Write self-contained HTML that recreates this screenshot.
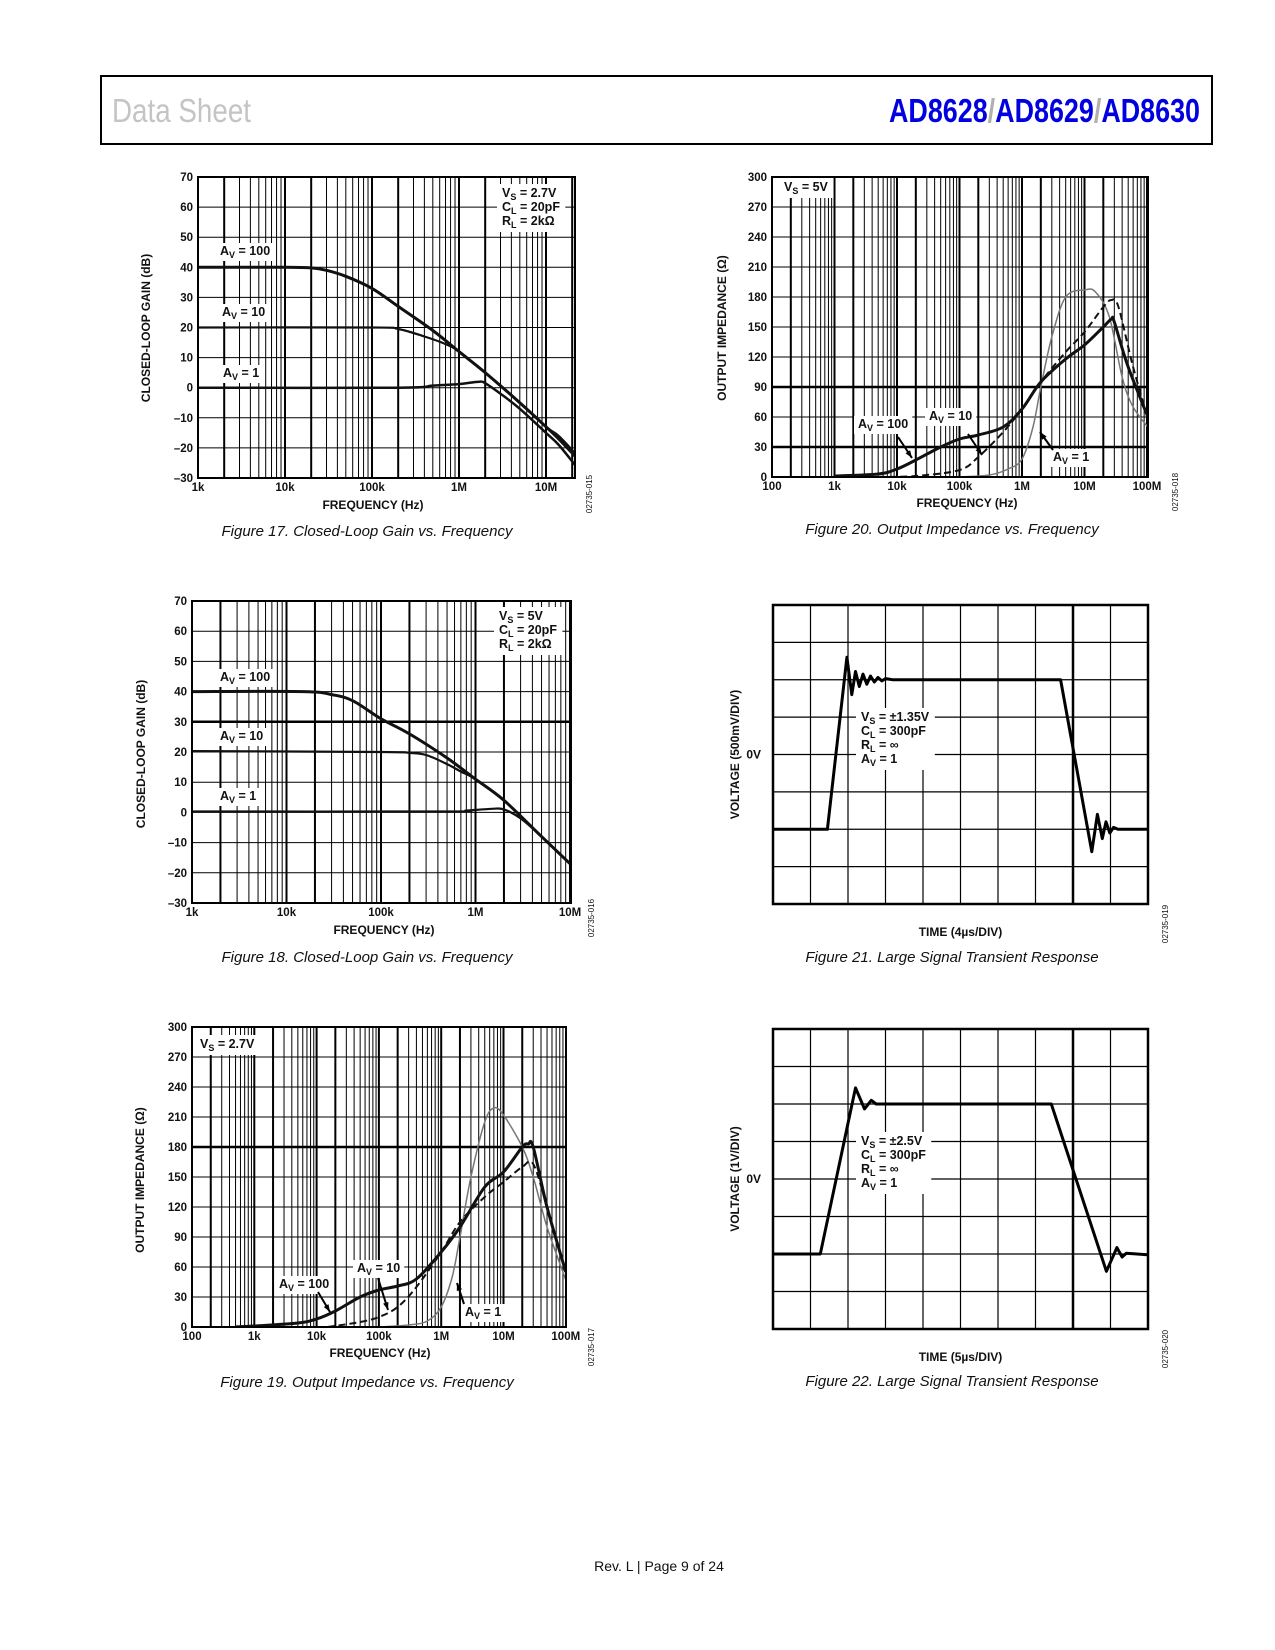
<!DOCTYPE html>
<html><head><meta charset="utf-8"><style>
html,body{margin:0;padding:0;background:#fff}
svg{display:block}
text{font-family:"Liberation Sans",Arial,sans-serif}
.t{font-size:11.5px;font-weight:bold;fill:#111}
.at{font-size:12px;font-weight:bold;fill:#111}
.cap{font-size:15px;font-style:italic;fill:#111}
.lg{font-size:12.5px;font-weight:bold;fill:#111}
.code{font-size:8px;fill:#111}
</style></head><body>
<svg id="page" width="1275" height="1650" viewBox="0 0 1275 1650" xmlns="http://www.w3.org/2000/svg">
<rect x="101" y="76" width="1111" height="68" fill="#fff" stroke="#000" stroke-width="2"/>
<text x="112" y="122" font-size="33" fill="#c4c4c4" textLength="139" lengthAdjust="spacingAndGlyphs">Data Sheet</text>
<text x="889" y="122" font-size="33" font-weight="bold" fill="#0000e0" textLength="311" lengthAdjust="spacingAndGlyphs">AD8628<tspan fill="#b0b0b0">/</tspan>AD8629<tspan fill="#b0b0b0">/</tspan>AD8630</text>
<g id="charts"></g>
<text x="659" y="1571" font-size="14" text-anchor="middle" fill="#111">Rev. L | Page 9 of 24</text>
</svg>
<script>
// ---------- Fig 17 data (freq Hz, gain dB) ----------
const f17_av100_f=[1e3,1e4,2e4,3e4,5e4,1e5,2e5,5e5,1e6,2e6,5e6,1e7,1.4e7,2.2e7];
const f17_av100_v=[40,40,39.8,39,37,33,27,19,12,5,-5,-13,-17,-23];
const f17_av10_f=[1e3,1e5,2e5,4e5,7e5,1e6,2e6,5e6,1e7,1.4e7,2.2e7];
const f17_av10_v=[20,20,19.5,17,14.5,12,5,-5,-13,-16,-22];
const f17_av1_f=[1e3,2e5,5e5,1e6,1.7e6,2e6,3e6,5e6,1e7,1.4e7,2.2e7];
const f17_av1_v=[0,0,0.7,1.2,2,1.5,-2,-7,-15,-19,-26];
const gainTicks=[70,60,50,40,30,20,10,0,-10,-20,-30];
const gainTickLabels=["70","60","50","40","30","20","10","0","\u201310","\u201320","\u201330"];
const f17_xTicks=[1e3,1e4,1e5,1e6,1e7];
const f17_xLabels=["1k","10k","100k","1M","10M"];
// ---------- Fig 18 data ----------
const f18_av100_f=[1e3,1.5e4,3e4,5e4,1e5,2e5,5e5,1e6,2e6,5e6,1e7];
const f18_av100_v=[40,40,39,37,31,26,18,11,4,-8,-17];
const f18_av10_f=[1e3,1e5,2e5,3e5,5e5,7e5,1e6,2e6,5e6,1e7];
const f18_av10_v=[20.3,20,19.7,19,16,13.5,11,4,-8,-17];
const f18_av1_f=[1e3,5e5,8e5,1.5e6,2e6,3e6,5e6,1e7];
const f18_av1_v=[0.3,0.3,0.6,1.2,1,-2,-8,-17];
// ---------- Fig 19 data (freq Hz, ohms) ----------
const f19_av100_f=[500,1e3,5e3,1e4,2e4,5e4,1e5,2e5,4e5,1e6,2e6,5e6,1e7,2e7,2.5e7,3e7,5e7,1e8];
const f19_av100_v=[0,1,4,8,16,30,37,41,48,75,100,140,155,180,183,180,120,55];
const f19_av10_f=[1.5e4,5e4,1e5,2e5,4e5,1e6,2e6,5e6,1e7,2e7,3e7,5e7,1e8];
const f19_av10_v=[0,5,10,20,40,75,105,130,145,160,163,120,55];
const f19_av1_f=[1e5,3e5,6e5,1e6,1.5e6,2e6,3e6,5e6,7e6,1e7,2e7,3e7,5e7,1e8];
const f19_av1_v=[0,2,6,20,50,90,150,205,219,212,180,150,100,47];
const impTicks=[300,270,240,210,180,150,120,90,60,30,0];
const impTickLabels=["300","270","240","210","180","150","120","90","60","30","0"];
const impXTicks=[1e2,1e3,1e4,1e5,1e6,1e7,1e8];
const impXLabels=["100","1k","10k","100k","1M","10M","100M"];
// ---------- Fig 20 data ----------
const f20_av100_f=[1e3,5e3,1e4,2e4,5e4,1e5,2e5,5e5,1e6,2e6,5e6,1e7,2e7,2.7e7,3e7,5e7,1.2e8];
const f20_av100_v=[1,3,8,17,30,38,42,50,68,95,118,132,150,158,155,110,50];
const f20_av10_f=[5e3,2e4,1e5,2e5,5e5,1e6,2e6,5e6,1e7,2e7,2.7e7,3.5e7,6e7,1.2e8];
const f20_av10_v=[0,1,7,20,45,68,95,125,145,170,177,170,110,45];
const f20_av1_f=[1e5,3e5,6e5,1e6,1.5e6,2e6,3e6,5e6,1e7,1.5e7,2.5e7,4e7,6e7,1.2e8];
const f20_av1_v=[0,2,8,18,50,90,140,180,187,185,160,100,70,45];
// ---------- Fig 21 / 22 transient data (time div, volts div) ----------
const f21_t=[0,1.45,1.97,2.1,2.2,2.3,2.4,2.5,2.6,2.7,2.8,2.9,3.0,3.2,3.9,7.67,8.5,8.65,8.78,8.88,8.98,9.08,9.2,10];
const f21_v=[-2,-2,2.6,1.6,2.22,1.82,2.15,1.88,2.1,1.94,2.06,1.97,2.03,2,2,2,-2.6,-1.6,-2.25,-1.8,-2.1,-1.95,-2,-2];
const f22_t=[0,1.26,2.2,2.44,2.62,2.75,7.42,8.89,9.17,9.31,9.42,10];
const f22_v=[-2,-2,2.43,1.87,2.1,2.0,2,-2.46,-1.83,-2.08,-1.98,-2.02];

const NS="http://www.w3.org/2000/svg";
const root=document.getElementById('charts');
function mk(tag,attrs,parent){const e=document.createElementNS(NS,tag);for(const k in attrs)e.setAttribute(k,attrs[k]);(parent||root).appendChild(e);return e;}
function smooth(pts){let d="M"+pts[0][0].toFixed(1)+","+pts[0][1].toFixed(1);
 for(let i=0;i<pts.length-1;i++){const p0=pts[Math.max(0,i-1)],p1=pts[i],p2=pts[i+1],p3=pts[Math.min(pts.length-1,i+2)];
  const c1=[p1[0]+(p2[0]-p0[0])/6,p1[1]+(p2[1]-p0[1])/6],c2=[p2[0]-(p3[0]-p1[0])/6,p2[1]-(p3[1]-p1[1])/6];
  d+=" C"+c1[0].toFixed(1)+","+c1[1].toFixed(1)+" "+c2[0].toFixed(1)+","+c2[1].toFixed(1)+" "+p2[0].toFixed(1)+","+p2[1].toFixed(1);}
 return d;}
function avLabel(g,x,y,val,name){const t=mk('text',{x:x,y:y,class:'lg'},g);
 t.innerHTML='A<tspan font-size="9" dy="3">V</tspan><tspan dy="-3"> = '+val+'</tspan>';
 const bb=t.getBBox();const r=mk('rect',{x:bb.x-4,y:bb.y-1,width:bb.width+8,height:bb.height+2,fill:'#fff'},g);g.insertBefore(r,t);}
function multiLabel(g,x,y,lines,name){const grp=mk('g',{},g);
 lines.forEach((l,i)=>{const t=mk('text',{x:x,y:y+i*14,class:'lg'},grp);t.innerHTML=l;});
 const bb=grp.getBBox();const r=mk('rect',{x:bb.x-5,y:bb.y-2,width:bb.width+10,height:bb.height+4,fill:'#fff'},grp);grp.insertBefore(r,grp.firstChild);}
const sub=(a,b,rest)=>a+'<tspan font-size="9" dy="3">'+b+'</tspan><tspan dy="-3">'+rest+'</tspan>';

function logChart(c){
 const g=mk('g',{});
 const dec=(c.x10-c.left);
 const X=f=>c.left+Math.log10(f/c.fmin)*dec;
 const Y=v=>c.bottom-(v-c.ymin)/(c.ymax-c.ymin)*(c.bottom-c.top);
 const gg=mk('g',{},g);
 for(let k=c.fmin;X(k)<c.right+1;k*=10){for(let m=1;m<10;m++){const x=X(k*m);if(x>c.right-0.5)break;if(x<c.left+0.5)continue;
   mk('line',{x1:x,x2:x,y1:c.top,y2:c.bottom,stroke:'#000','stroke-width':(m==1||m==2)?2:1},gg);}}
 c.yTicks.forEach(v=>{const y=Y(v);mk('line',{x1:c.left,x2:c.right,y1:y,y2:y,stroke:'#000','stroke-width':(c.heavyY||[]).includes(v)?2.5:1},gg);});
 c.yTicks.forEach((v,i)=>{const t=mk('text',{x:c.left-5,y:Y(v)+4,class:'t','text-anchor':'end'},g);t.textContent=c.yLabels[i];
  });
 c.xTicks.forEach((f,i)=>{const t=mk('text',{x:X(f),y:c.bottom+13,class:'t','text-anchor':'middle'},g);t.textContent=c.xLabels[i];
  });
 const clip='clip-'+c.name;const cp=mk('clipPath',{id:clip},g);mk('rect',{x:c.left,y:c.top,width:c.right-c.left,height:c.bottom-c.top},cp);
 const lg=mk('g',{'clip-path':'url(#'+clip+')'},g);
 c.series.forEach(s=>{const pts=s.f.map((f,i)=>[X(f),Y(s.v[i])]);
  const p=mk('path',{d:smooth(pts),fill:'none',stroke:s.color||'#111','stroke-width':s.w,'stroke-dasharray':s.dash||'none','stroke-linejoin':'round'},lg);
  });
 const fr=mk('rect',{x:c.left,y:c.top,width:c.right-c.left,height:c.bottom-c.top,fill:'none',stroke:'#000','stroke-width':2},g);
 
 const xt=mk('text',{x:c.xtx,y:c.xty,class:'at','text-anchor':'middle'},g);xt.textContent='FREQUENCY (Hz)';
 
 const yt=mk('text',{x:0,y:0,class:'at','text-anchor':'middle',transform:'translate('+c.ytx+','+c.yty+') rotate(-90)'},g);yt.textContent=c.ytitle;
 
 const cd=mk('text',{x:0,y:0,class:'code','text-anchor':'middle',transform:'translate('+c.codex+','+c.codey+') rotate(-90)'},g);cd.textContent=c.code;
 
 const cap=mk('text',{x:c.capx,y:c.capy,class:'cap','text-anchor':'middle'},g);cap.textContent=c.caption;
 
 return {g,X,Y};
}
function arrow(g,x1,y1,x2,y2){mk('line',{x1,y1,x2,y2,stroke:'#000','stroke-width':2},g);
 const a=Math.atan2(y2-y1,x2-x1),L=8;const p=[[x2,y2],[x2-L*Math.cos(a-0.35),y2-L*Math.sin(a-0.35)],[x2-L*Math.cos(a+0.35),y2-L*Math.sin(a+0.35)]];
 mk('polygon',{points:p.map(q=>q.join(',')).join(' '),fill:'#000'},g);}

// Fig 17
let c17=logChart({name:'figure-17-chart',left:198,right:575,top:177,bottom:478,fmin:1e3,x10:285,ymin:-30,ymax:70,
 yTicks:gainTicks,yLabels:gainTickLabels,xTicks:f17_xTicks,xLabels:f17_xLabels,
 series:[{f:f17_av100_f,v:f17_av100_v,w:3,name:'av100-line'},{f:f17_av10_f,v:f17_av10_v,w:2.2,name:'av10-line'},{f:f17_av1_f,v:f17_av1_v,w:2.5,name:'av1-line'}],
 xtx:373,xty:509,ytx:150,yty:328,ytitle:'CLOSED-LOOP GAIN (dB)',code:'02735-015',codex:592,codey:494,capx:367,capy:536,caption:'Figure 17. Closed-Loop Gain vs. Frequency'});
multiLabel(c17.g,502,197,[sub('V','S',' = 2.7V'),sub('C','L',' = 20pF'),sub('R','L',' = 2kΩ')],'legend-conditions');
avLabel(c17.g,220,255,'100','label-av100');avLabel(c17.g,222,316,'10','label-av10');avLabel(c17.g,223,377,'1','label-av1');

// Fig 18
let c18=logChart({name:'figure-18-chart',left:192,right:571,top:601,bottom:903,fmin:1e3,x10:286.5,ymin:-30,ymax:70,heavyY:[30],
 yTicks:gainTicks,yLabels:gainTickLabels,xTicks:f17_xTicks,xLabels:f17_xLabels,
 series:[{f:f18_av100_f,v:f18_av100_v,w:3,name:'av100-line'},{f:f18_av10_f,v:f18_av10_v,w:2.2,name:'av10-line'},{f:f18_av1_f,v:f18_av1_v,w:2.2,name:'av1-line'}],
 xtx:384,xty:934,ytx:145,yty:754,ytitle:'CLOSED-LOOP GAIN (dB)',code:'02735-016',codex:594,codey:918,capx:367,capy:962,caption:'Figure 18. Closed-Loop Gain vs. Frequency'});
multiLabel(c18.g,499,620,[sub('V','S',' = 5V'),sub('C','L',' = 20pF'),sub('R','L',' = 2kΩ')],'legend-conditions');
avLabel(c18.g,220,681,'100','label-av100');avLabel(c18.g,220,740,'10','label-av10');avLabel(c18.g,220,800,'1','label-av1');

// Fig 19
let c19=logChart({name:'figure-19-chart',left:192,right:566,top:1027,bottom:1327,fmin:1e2,x10:254.3,ymin:0,ymax:300,heavyY:[180],
 yTicks:impTicks,yLabels:impTickLabels,xTicks:impXTicks,xLabels:impXLabels,
 series:[{f:f19_av1_f,v:f19_av1_v,w:1.5,color:'#777',name:'av1-line'},{f:f19_av10_f,v:f19_av10_v,w:2,dash:'7,4',name:'av10-line'},{f:f19_av100_f,v:f19_av100_v,w:3,name:'av100-line'}],
 xtx:380,xty:1357,ytx:144,yty:1180,ytitle:'OUTPUT IMPEDANCE (Ω)',code:'02735-017',codex:594,codey:1347,capx:367,capy:1387,caption:'Figure 19. Output Impedance vs. Frequency'});
multiLabel(c19.g,200,1048,[sub('V','S',' = 2.7V')],'legend-conditions');
avLabel(c19.g,279,1288,'100','label-av100');avLabel(c19.g,357,1272,'10','label-av10');avLabel(c19.g,465,1316,'1','label-av1');
arrow(c19.g,318,1292,330,1312);arrow(c19.g,378,1278,388,1310);arrow(c19.g,464,1304,457,1283);

// Fig 20
let c20=logChart({name:'figure-20-chart',left:772,right:1148,top:177,bottom:477,fmin:1e2,x10:834.5,ymin:0,ymax:300,heavyY:[90,30],
 yTicks:impTicks,yLabels:impTickLabels,xTicks:impXTicks,xLabels:impXLabels,
 series:[{f:f20_av1_f,v:f20_av1_v,w:1.5,color:'#777',name:'av1-line'},{f:f20_av10_f,v:f20_av10_v,w:2,dash:'7,4',name:'av10-line'},{f:f20_av100_f,v:f20_av100_v,w:3,name:'av100-line'}],
 xtx:967,xty:507,ytx:726,yty:328,ytitle:'OUTPUT IMPEDANCE (Ω)',code:'02735-018',codex:1178,codey:492,capx:952,capy:534,caption:'Figure 20. Output Impedance vs. Frequency'});
multiLabel(c20.g,784,191,[sub('V','S',' = 5V')],'legend-conditions');
avLabel(c20.g,858,428,'100','label-av100');avLabel(c20.g,929,420,'10','label-av10');avLabel(c20.g,1053,461,'1','label-av1');
arrow(c20.g,898,437,912,458);arrow(c20.g,968,434,982,455);arrow(c20.g,1053,450,1040,432);

function scope(c){
 const g=mk('g',{});
 const dx=(c.right-c.left)/10,dy=(c.bottom-c.top)/8,cy=c.top+4*dy;
 const X=t=>c.left+t*dx,Y=v=>cy-v*dy;
 const gg=mk('g',{},g);
 for(let i=1;i<10;i++)mk('line',{x1:X(i),x2:X(i),y1:c.top,y2:c.bottom,stroke:'#000','stroke-width':i==8?2.5:1.2},gg);
 for(let j=1;j<8;j++){const y=c.top+j*dy;mk('line',{x1:c.left,x2:c.right,y1:y,y2:y,stroke:'#000','stroke-width':1.2},gg);}
 multiLabel(g,c.lx,c.ly,c.legend,'legend-conditions');
 const pts=c.t.map((t,i)=>X(t).toFixed(1)+','+Y(c.v[i]).toFixed(1)).join(' ');
 const pl=mk('polyline',{points:pts,fill:'none',stroke:'#000','stroke-width':3,'stroke-linejoin':'round'},g);
 
 const fr=mk('rect',{x:c.left,y:c.top,width:c.right-c.left,height:c.bottom-c.top,fill:'none',stroke:'#000','stroke-width':2.5},g);
 
 const z=mk('text',{x:c.left-12,y:cy+4,class:'at','text-anchor':'end'},g);z.textContent='0V';
 const xt=mk('text',{x:(c.left+c.right)/2,y:c.bottom+32,class:'at','text-anchor':'middle'},g);xt.textContent=c.xtitle;
 
 const yt=mk('text',{x:0,y:0,class:'at','text-anchor':'middle',transform:'translate('+(c.left-34)+','+cy+') rotate(-90)'},g);yt.textContent=c.ytitle;
 
 const cd=mk('text',{x:0,y:0,class:'code','text-anchor':'middle',transform:'translate('+(c.right+20)+','+(c.bottom+20)+') rotate(-90)'},g);cd.textContent=c.code;
 
 const cap=mk('text',{x:952,y:c.capy,class:'cap','text-anchor':'middle'},g);cap.textContent=c.caption;
 
}
scope({name:'figure-21-chart',left:773,right:1148,top:605,bottom:904,t:f21_t,v:f21_v,lx:861,ly:721,
 legend:[sub('V','S',' = ±1.35V'),sub('C','L',' = 300pF'),sub('R','L',' = ∞'),sub('A','V',' = 1')],
 xtitle:'TIME (4µs/DIV)',ytitle:'VOLTAGE (500mV/DIV)',code:'02735-019',capy:962,caption:'Figure 21. Large Signal Transient Response'});
scope({name:'figure-22-chart',left:773,right:1148,top:1029,bottom:1329,t:f22_t,v:f22_v,lx:861,ly:1145,
 legend:[sub('V','S',' = ±2.5V'),sub('C','L',' = 300pF'),sub('R','L',' = ∞'),sub('A','V',' = 1')],
 xtitle:'TIME (5µs/DIV)',ytitle:'VOLTAGE (1V/DIV)',code:'02735-020',capy:1386,caption:'Figure 22. Large Signal Transient Response'});
</script>
</body></html>
